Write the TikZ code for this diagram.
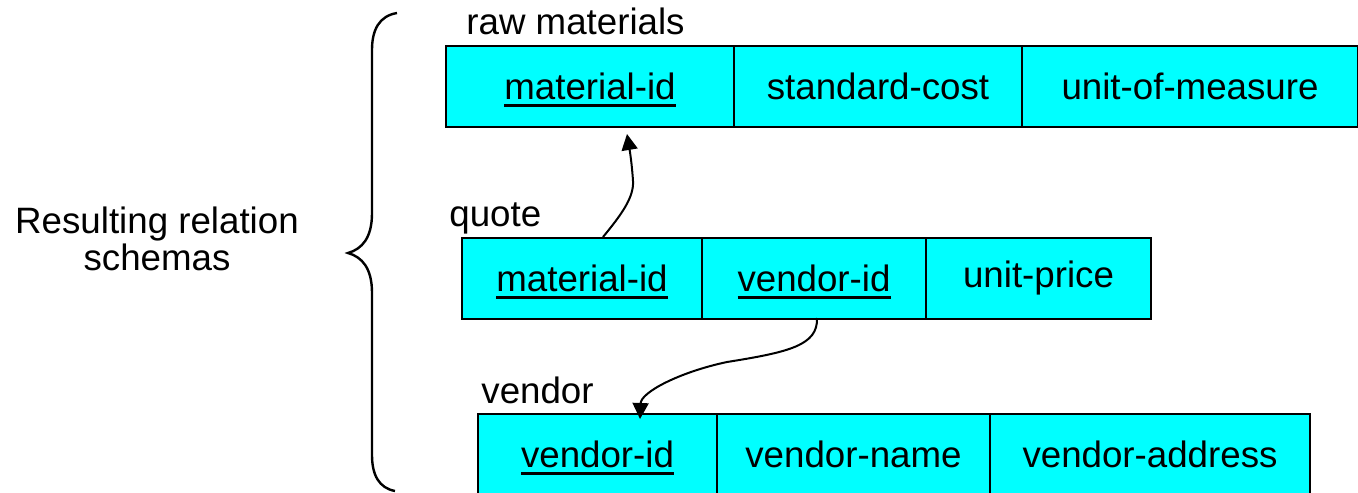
\documentclass[tikz,border=0pt]{standalone}
\usepackage{fontspec}
\setmainfont{Liberation Sans}
\usetikzlibrary{arrows.meta}
\definecolor{cellcyan}{HTML}{00FFFF}
\newcommand\keyattr[1]{\setbox0\hbox{#1}\rlap{\smash{\rule[-3.7pt]{\wd0}{1.3pt}}}\box0}
\tikzset{
  cell/.style={draw=black, fill=cellcyan, line width=1pt, minimum height=40.5pt,
    inner sep=0pt, anchor=north west, font=\fontsize{18.35}{22}\selectfont},
  lbl/.style={inner sep=0pt, anchor=base west, font=\fontsize{18.35}{22}\selectfont},
  txt/.style={inner sep=0pt, anchor=base, font=\fontsize{18.35}{22}\selectfont},
  fk/.style={line width=1pt, -{Triangle[length=8pt,width=8pt]}},
  brace/.style={line width=1.2pt}
}
\begin{document}
\begin{tikzpicture}[x=0.5pt,y=-0.5pt]
\useasboundingbox (0,0) rectangle (1358,492);
% raw materials
\node[lbl] (rawlbl) at (466,35) {raw materials};
\node[cell, minimum width=144pt] (r1) at (445,45) {\keyattr{material-id}};
\node[cell, minimum width=144pt] (r2) at (733,45) {standard-cost};
\node[cell, minimum width=168pt] (r3) at (1021,45) {unit-of-measure};
% quote
\node[lbl] (qlbl) at (449,226) {quote};
\node[cell, minimum width=120pt] (q1) at (461,237) {\keyattr{material-id}};
\node[cell, minimum width=112pt] (q2) at (701,237) {\keyattr{vendor-id}};
\node[cell, minimum width=112.5pt] (q3) at (925,237) {unit-price};
% vendor
\node[lbl] (vlbl) at (481,403) {vendor};
\node[cell, minimum width=119.5pt] (v1) at (477,413) {\keyattr{vendor-id}};
\node[cell, minimum width=136.5pt] (v2) at (716,413) {vendor-name};
\node[cell, minimum width=160pt] (v3) at (989,413) {vendor-address};
% side label
\node[txt] (res1) at (157,233) {Resulting relation};
\node[txt] (res2) at (157,270) {schemas};
% brace
\draw[brace] (397,13) .. controls (379,16) and (372,30) .. (372,50) -- (372,213)
  .. controls (372,238) and (362,249) .. (348,253)
  .. controls (362,257) and (372,268) .. (372,293) -- (372,455)
  .. controls (372,475) and (379,488) .. (395,491);
% foreign key arrows
\coordinate (a1s) at (603,237);
\coordinate (a1m) at (633,181);
\coordinate (a1e) at (627,134);
\draw[fk] (a1s) .. controls (622,214) and (634,197) .. (a1m)
  .. controls (632,165) and (630,152) .. (a1e);
\coordinate (a2s) at (817,318);
\coordinate (a2m) at (727,362);
\coordinate (a2e) at (640,419);
\draw[fk] (a2s) .. controls (818,345) and (790,352) .. (a2m)
  .. controls (680,372) and (641,392) .. (a2e);
\end{tikzpicture}
\end{document}
